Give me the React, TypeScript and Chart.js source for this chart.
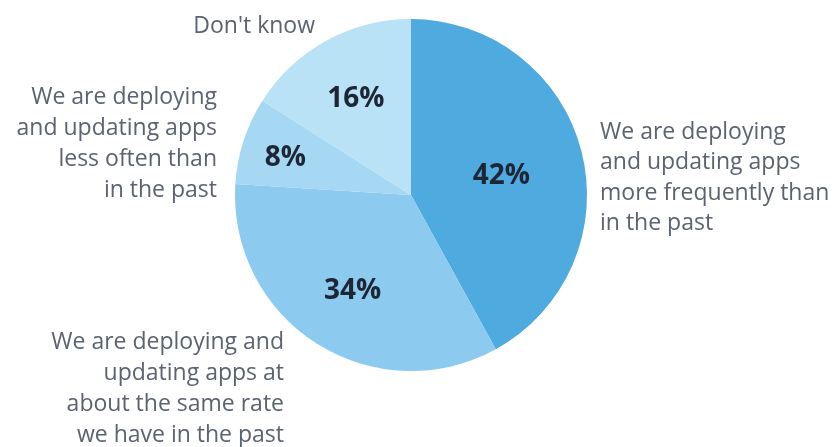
import React, { useEffect, useRef } from "react";
import { Chart, registerables } from "chart.js";

Chart.register(...registerables);

// ---- data ----
const categories: string[][] = [
  ["We are deploying", "and updating apps", "more frequently than", "in the past"],
  ["We are deploying and", "updating apps at", "about the same rate", "we have in the past"],
  ["We are deploying", "and updating apps", "less often than", "in the past"],
  ["Don't know"],
];
const values: number[] = [42, 34, 8, 16];
const colors: string[] = ["#4eaadf", "#8ccbef", "#a6d7f3", "#bae2f7"];

// ---- label layout (style only) ----
const pctRadius = [0.53, 0.62, 0.75, 0.65];
const outerAnchors = [
  { dx: 189, dy: -63, align: "left", lh: 30.5 },
  { dx: -127, dy: 147, align: "right", lh: 31 },
  { dx: -194, dy: -98, align: "right", lh: 31 },
  { dx: -96, dy: -169, align: "right", lh: 31 },
];

const labelPlugin = {
  id: "pieLabels",
  afterDatasetsDraw(chart: any) {
    const ctx = chart.ctx;
    const meta = chart.getDatasetMeta(0);
    ctx.save();
    meta.data.forEach((arc: any, i: number) => {
      const { x, y, startAngle, endAngle, outerRadius } = arc.getProps(
        ["x", "y", "startAngle", "endAngle", "outerRadius"],
        true
      );
      const mid = (startAngle + endAngle) / 2;
      const r = outerRadius * pctRadius[i];
      ctx.fillStyle = "#1e2636";
      ctx.font = "700 28px 'Open Sans'";
      ctx.textAlign = "center";
      ctx.textBaseline = "middle";
      ctx.fillText(values[i] + "%", x + Math.cos(mid) * r, y + Math.sin(mid) * r + 4);

      const a = outerAnchors[i];
      ctx.fillStyle = "#5c6370";
      ctx.font = "400 23px 'Open Sans'";
      ctx.textAlign = a.align;
      categories[i].forEach((line, k) => {
        ctx.fillText(line, x + a.dx, y + a.dy + k * a.lh);
      });
    });
    ctx.restore();
  },
};

export default function App() {
  const ref = useRef<HTMLCanvasElement | null>(null);
  useEffect(() => {
    document.body.style.margin = "0";
    const chart = new Chart(ref.current!, {
      type: "pie",
      data: {
        labels: categories.map((c) => c.join(" ")),
        datasets: [
          {
            data: values,
            backgroundColor: colors,
            borderWidth: 0,
          },
        ],
      },
      options: {
        animation: false,
        responsive: true,
        maintainAspectRatio: false,
        events: [],
        layout: { padding: { top: 19, bottom: 76, left: 0, right: 14 } },
        plugins: {
          legend: { display: false },
          tooltip: { enabled: false },
        },
      },
      plugins: [labelPlugin],
    });
    return () => chart.destroy();
  }, []);
  return (
    <div style={{ position: "absolute", left: 0, top: 0, width: 836, height: 447, background: "#fff" }}>
      <canvas ref={ref} />
    </div>
  );
}
